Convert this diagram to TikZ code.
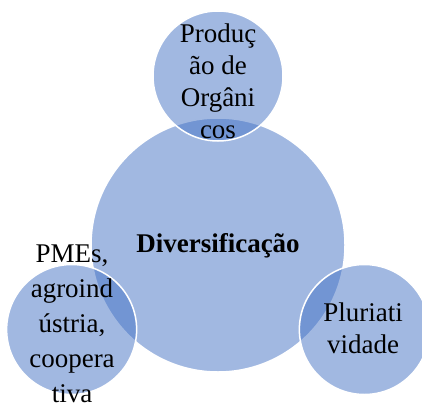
\documentclass[tikz,border=0pt]{standalone}
\usepackage{fontspec}
\setmainfont{Liberation Serif}
\usetikzlibrary{positioning}
\usetikzlibrary{calc}
\definecolor{vennblue}{HTML}{4472C4}

\begin{document}
\begin{tikzpicture}
			[
				x = 1pt, y = 1pt,
				hub/.style = {circle, minimum size = 254pt, inner sep = 0pt, fill = vennblue, fill opacity = 0.5, draw = white, line width = 1.5pt},
				petal/.style = {hub, minimum size = 130pt},
				venntext/.style = {align = center, inner sep = 0pt, font = \fontsize{27}{32}\selectfont},
			]
			\useasboundingbox (0,0) rectangle (422,413);
			\node (divers) [hub] at (218,168) {};
			\node (organicos) [petal] at ($(divers)+(90:169)$) {};
			\node (pmes) [petal] at ($(divers)+(210:169)$) {};
			\node (pluri) [petal] at ($(divers)+(330:169)$) {};
			\node (divers text) [venntext, anchor = base, font = \fontsize{27}{32}\selectfont\bfseries] at (218,161) {Diversificação};
			\node (organicos text) [venntext] at (218,332) {Produç\\ão de\\Orgâni\\cos};
			\node (pmes text) [venntext, font = \fontsize{27}{35}\selectfont] at (72,89.5) {PMEs,\\agroind\\ústria,\\coopera\\tiva};
			\node (pluri text) [venntext] at (363,85) {Pluriati\\vidade};
		\end{tikzpicture}
\end{document}
